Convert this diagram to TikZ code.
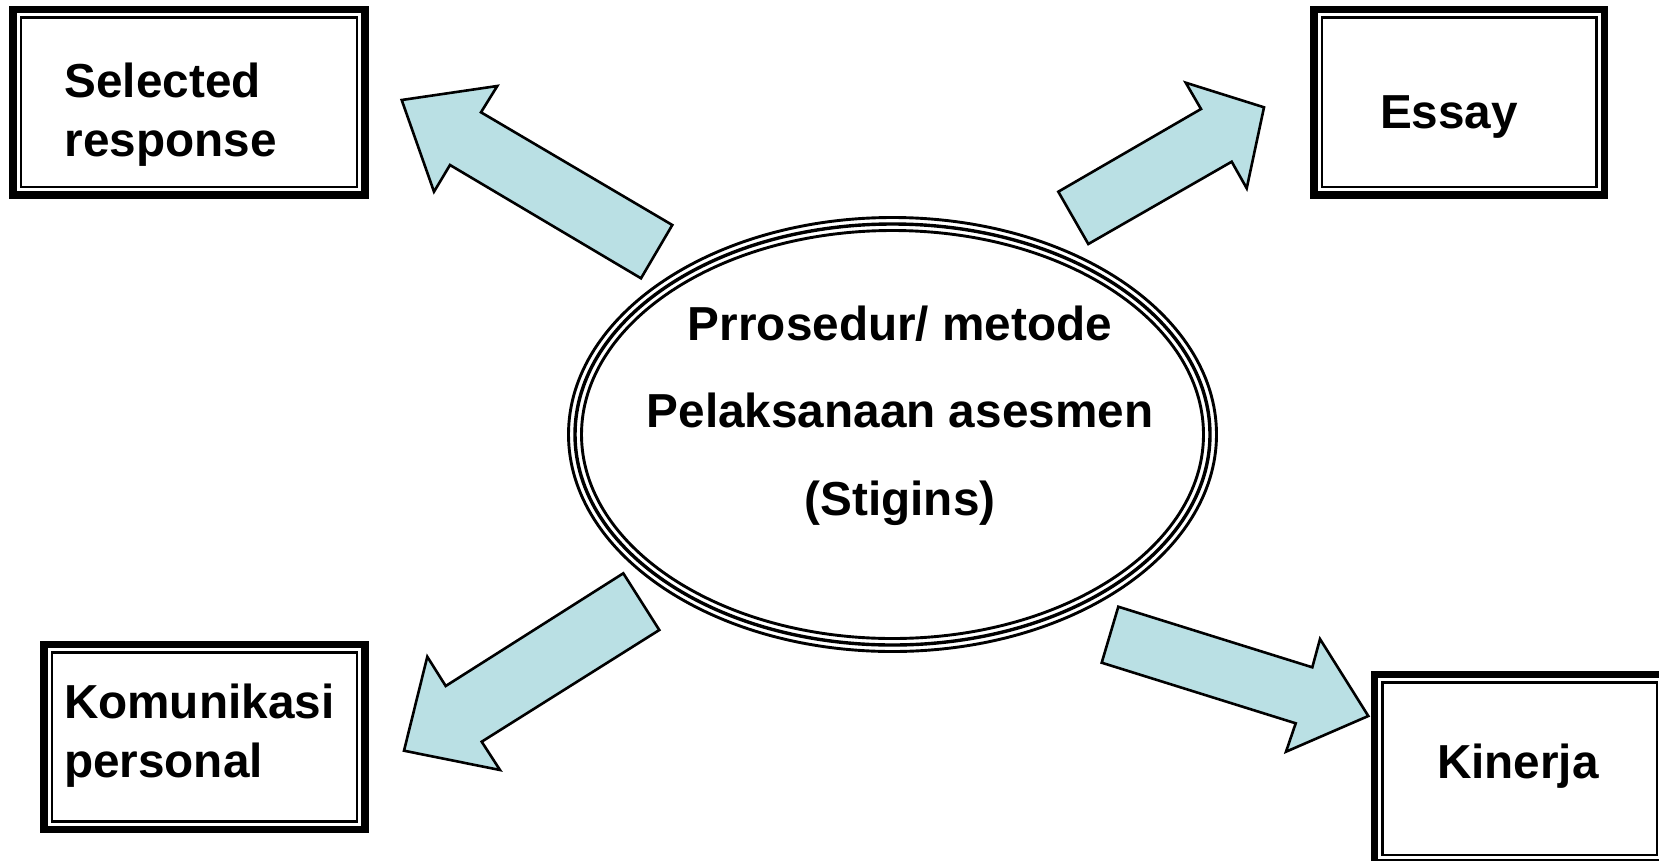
\documentclass[tikz,border=0pt]{standalone}
\usepackage{fontspec}
\setmainfont{Liberation Sans}
\definecolor{arrowblue}{RGB}{186,224,228}
\tikzset{
  blockarrow/.style={fill=arrowblue, draw=black, line width=2.6pt, line join=miter},
  thickframe/.style={draw=black, line width=7.7pt, inner sep=0pt, outer sep=0pt, fill=white},
  thinframe/.style={draw=black, line width=2.2pt},
  lbl/.style={font=\bfseries\fontsize{47.7}{58}\selectfont, inner sep=0pt, outer sep=0pt},
  ringouter/.style={draw=black, line width=2.9pt},
  ringmid/.style={draw=black, line width=3.4pt},
}
\begin{document}
\begin{tikzpicture}[x=1pt,y=-1pt]
\useasboundingbox (0,0) rectangle (1659,860);
\clip (0,0) rectangle (1659,860);
\fill[white] (0,0) rectangle (1659,860);

% framed boxes
\node[thickframe, minimum width=352.3pt, minimum height=185.6pt] (b1) at (189,102.35) {};
\draw[thinframe] ([shift={(7.95pt,-7.95pt)}]b1.north west) rectangle ([shift={(-7.95pt,7.95pt)}]b1.south east);
\node[thickframe, minimum width=290.6pt, minimum height=185.6pt] (b2) at (1459.15,102.35) {};
\draw[thinframe] ([shift={(7.95pt,-7.95pt)}]b2.north west) rectangle ([shift={(-7.95pt,7.95pt)}]b2.south east);
\node[thickframe, minimum width=321.3pt, minimum height=184.9pt] (b3) at (204.5,737) {};
\draw[thinframe] ([shift={(7.95pt,-7.95pt)}]b3.north west) rectangle ([shift={(-7.95pt,7.95pt)}]b3.south east);
\node[thickframe, minimum width=290.6pt, minimum height=188.6pt] (b4) at (1519.85,768.85) {};
\draw[thinframe] ([shift={(7.95pt,-7.95pt)}]b4.north west) rectangle ([shift={(-7.95pt,7.95pt)}]b4.south east);

% box labels
\node[lbl, anchor=base west] (t1a) at (64.5,97.5) {Selected};
\node[lbl, anchor=base west] (t1b) at (64.5,156.5) {response};
\node[lbl, anchor=base west] (t2) at (1380,128.8) {Essay};
\node[lbl, anchor=base west] (t3a) at (64,718.8) {Komunikasi};
\node[lbl, anchor=base west] (t3b) at (64,777) {personal};
\node[lbl, anchor=base west] (t4) at (1437,778.8) {Kinerja};

% central ellipse with triple line
\coordinate (ec) at (892.5,434.5);
\fill[white] (ec) ellipse [x radius=324pt, y radius=217pt];
\draw[ringouter] (ec) ellipse [x radius=324pt, y radius=217pt];
\draw[ringmid] (ec) ellipse [x radius=317.5pt, y radius=210.5pt];
\draw[ringouter] (ec) ellipse [x radius=311pt, y radius=204pt];
\node[lbl, anchor=base] (e1) at (900,340.7) {Prrosedur/ metode};
\node[lbl, anchor=base] (e2) at (900,427.4) {Pelaksanaan asesmen};
\node[lbl, anchor=base] (e3) at (900,515.2) {(Stigins)};

% block arrows
\draw[blockarrow] (672.3,225) -- (481,112.3) -- (497.3,86) -- (401.7,100) -- (434,191.7) -- (450,165) -- (641,278.3) -- cycle;
\draw[blockarrow] (1088.3,244) -- (1058.3,191.7) -- (1201,109) -- (1185.7,82.7) -- (1264,107.3) -- (1246.7,188.3) -- (1231.7,161.7) -- cycle;
\draw[blockarrow] (623.3,573.3) -- (659.3,630) -- (481.7,741.7) -- (500,770) -- (404,750.7) -- (427.3,656.7) -- (445.7,686) -- cycle;
\draw[blockarrow] (1118.3,606.7) -- (1101.7,662.7) -- (1295.7,723.3) -- (1286,751.7) -- (1368.3,716) -- (1320,639) -- (1312.3,667.3) -- cycle;
\end{tikzpicture}
\end{document}
